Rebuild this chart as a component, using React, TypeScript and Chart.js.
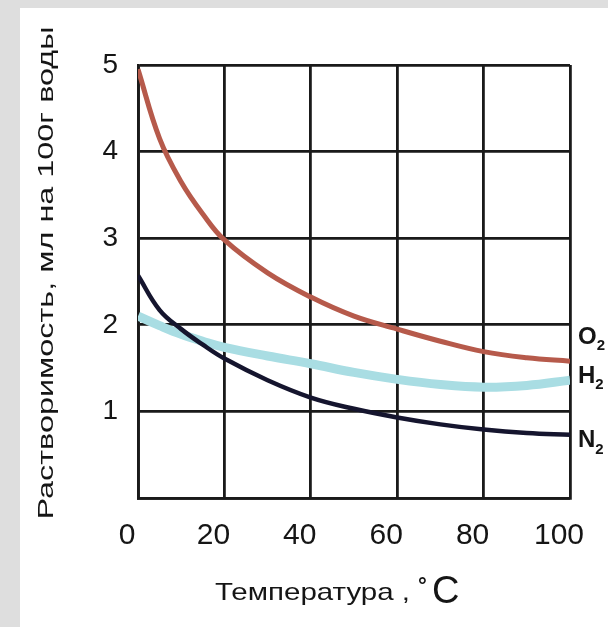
import React, { useEffect, useRef } from "react";
import { Chart, registerables } from "chart.js";

Chart.register(...registerables);

const temperatures = [0, 5, 10, 15, 20, 30, 40, 50, 60, 70, 80, 90, 100];
const oxygen = [4.95, 4.15, 3.65, 3.28, 2.98, 2.6, 2.32, 2.1, 1.95, 1.81, 1.69, 1.62, 1.58];
const hydrogen = [2.1, 1.99, 1.89, 1.81, 1.74, 1.64, 1.55, 1.45, 1.37, 1.31, 1.28, 1.3, 1.36];
const nitrogen = [2.57, 2.17, 1.95, 1.77, 1.61, 1.36, 1.16, 1.03, 0.93, 0.85, 0.79, 0.75, 0.73];
const xTickValues = [0, 20, 40, 60, 80, 100];
const yTickValues = [0, 1, 2, 3, 4, 5];
const seriesNames = ["O", "H", "N"];
const seriesSub = ["2", "2", "2"];
const yTitle = "Растворимость, мл на 100г воды";
const xTitle = "Температура ,";
const xUnitDeg = "°";
const xUnitC = "C";

const FONT = "'Liberation Sans', Arial, sans-serif";

const textPlugin = {
  id: "texts",
  afterDraw(chart: any) {
    const ctx = chart.ctx as CanvasRenderingContext2D;
    const area = chart.chartArea;
    const ys = chart.scales.y;
    ctx.save();
    ctx.fillStyle = "#151515";

    // series labels at right end
    const offsets = [-24, -4, 6];
    chart.data.datasets.forEach((ds: any) => {
      const idx = ds.labelIndex;
      const last = ds.data[ds.data.length - 1];
      const py = ys.getPixelForValue(last.y) + offsets[idx];
      ctx.font = `bold 24px ${FONT}`;
      ctx.textBaseline = "middle";
      ctx.textAlign = "left";
      const x0 = area.right + 8;
      ctx.fillText(seriesNames[idx], x0, py);
      const w = ctx.measureText(seriesNames[idx]).width;
      ctx.font = `bold 15px ${FONT}`;
      ctx.fillText(seriesSub[idx], x0 + w, py + 9);
    });

    // y title (rotated, stretched)
    ctx.save();
    ctx.font = `22px ${FONT}`;
    ctx.textAlign = "center";
    ctx.textBaseline = "middle";
    const yw = ctx.measureText(yTitle).width;
    const targetY = 493;
    ctx.translate(27, 265);
    ctx.rotate(-Math.PI / 2);
    ctx.scale(targetY / yw, 1);
    ctx.fillText(yTitle, 0, 0);
    ctx.restore();

    // x title
    ctx.save();
    ctx.font = `24px ${FONT}`;
    ctx.textAlign = "left";
    ctx.textBaseline = "alphabetic";
    const xw = ctx.measureText(xTitle).width;
    const targetX = 195;
    ctx.translate(195, 592);
    ctx.scale(targetX / xw, 1);
    ctx.fillText(xTitle, 0, 0);
    ctx.restore();
    ctx.font = `bold 22px ${FONT}`;
    ctx.textBaseline = "alphabetic";
    ctx.fillText(xUnitDeg, 398, 585);
    ctx.font = `38px ${FONT}`;
    ctx.fillText(xUnitC, 412, 595);

    ctx.restore();
  },
};

export default function App() {
  const ref = useRef<HTMLCanvasElement | null>(null);

  useEffect(() => {
    if (!ref.current) return;
    const mk = (vals: number[]) => vals.map((v, i) => ({ x: temperatures[i], y: v }));
    const chart = new Chart(ref.current, {
      type: "line",
      data: {
        datasets: [
          {
            label: "H2",
            labelIndex: 1,
            data: mk(hydrogen),
            borderColor: "#a9dde3",
            borderWidth: 9,
            pointRadius: 0,
            tension: 0.4,
            order: 3,
          } as any,
          {
            label: "N2",
            labelIndex: 2,
            data: mk(nitrogen),
            borderColor: "#15152e",
            borderWidth: 4.5,
            pointRadius: 0,
            tension: 0.4,
            order: 2,
          } as any,
          {
            label: "O2",
            labelIndex: 0,
            data: mk(oxygen),
            borderColor: "#b65a4b",
            borderWidth: 5,
            pointRadius: 0,
            tension: 0.4,
            order: 1,
          } as any,
        ],
      },
      options: {
        animation: false,
        responsive: false,
        devicePixelRatio: 1,
        layout: { padding: { left: 0, top: 57, right: 38, bottom: 0 } },
        plugins: { legend: { display: false }, tooltip: { enabled: false } },
        scales: {
          x: {
            type: "linear",
            min: 0,
            max: 100,
            afterFit: (s: any) => {
              s.height = 129;
              s.paddingLeft = 0;
              s.paddingRight = 0;
            },
            afterBuildTicks: (s: any) => {
              s.ticks = xTickValues.map((v) => ({ value: v }));
            },
            grid: { color: "#1a1a1a", lineWidth: 2.8, drawTicks: false },
            border: { color: "#1a1a1a", width: 2.8 },
            ticks: {
              font: { family: FONT, size: 30 },
              color: "#151515",
              padding: 20,
              labelOffset: -11,
              maxRotation: 0,
            },
          },
          y: {
            type: "linear",
            min: 0,
            max: 5,
            afterFit: (s: any) => {
              s.width = 118;
              s.paddingTop = 0;
              s.paddingBottom = 0;
            },
            afterBuildTicks: (s: any) => {
              s.ticks = yTickValues.map((v) => ({ value: v }));
            },
            grid: { color: "#1a1a1a", lineWidth: 2.8, drawTicks: false },
            border: { color: "#1a1a1a", width: 2.8 },
            ticks: {
              font: { family: FONT, size: 28 },
              color: "#151515",
              padding: 20,
              callback: (v: any) => (v === 0 ? "" : String(v)),
            },
          },
        },
      },
      plugins: [textPlugin],
    });
    return () => chart.destroy();
  }, []);

  return (
    <div
      style={{
        position: "fixed",
        left: 0,
        top: 0,
        width: 608,
        height: 627,
        background: "#dedede",
        overflow: "hidden",
      }}
    >
      <canvas
        ref={ref}
        width={588}
        height={619}
        style={{ position: "absolute", left: 20, top: 8, width: 588, height: 619, background: "#ffffff" }}
      />
    </div>
  );
}
